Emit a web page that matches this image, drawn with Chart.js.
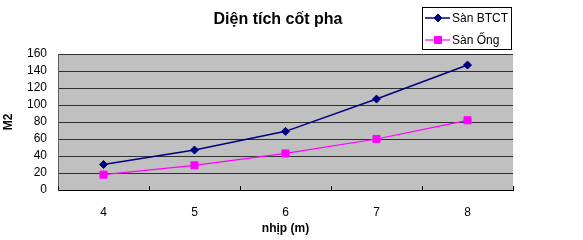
<!DOCTYPE html>
<html><head><meta charset="utf-8">
<script src="https://cdn.jsdelivr.net/npm/chart.js@4"></script>
<style>html,body{margin:0;padding:0;background:#fff}#w{width:583px;height:240px}</style>
</head><body><div id="w"><canvas id="c" width="583" height="240"></canvas></div>
<script>
const categories = ['4', '5', '6', '7', '8'];
const sanBTCT = [30, 47, 69, 107, 147];
const sanOng = [18, 29, 43, 60, 82];
const seriesNames = ['Sàn BTCT', 'Sàn Ống'];
const chartTitle = 'Diện tích cốt pha';
const xTitle = 'nhịp (m)';
const yTitle = 'M2';

const FONT = '"Liberation Sans", Arial, sans-serif';

const bgPlugin = {
  id: 'bg',
  beforeDraw(chart) {
    const {ctx, chartArea: a} = chart;
    ctx.save();
    ctx.fillStyle = '#C0C0C0';
    ctx.fillRect(a.left, a.top, a.right - a.left, a.bottom - a.top);
    ctx.restore();
  },
  afterDraw(chart) {
    const {ctx, chartArea: a} = chart;
    ctx.save();
    ctx.strokeStyle = '#000';
    ctx.lineWidth = 1;
    const n = categories.length;
    const step = (a.right - a.left) / n;
    for (let i = 0; i <= n; i++) {
      const x = Math.round(a.left + i * step) + 0.5;
      ctx.beginPath(); ctx.moveTo(x, a.bottom - 4); ctx.lineTo(x, a.bottom); ctx.stroke();
    }
    // title
    ctx.fillStyle = '#000';
    ctx.font = 'bold 16px ' + FONT;
    ctx.textAlign = 'center'; ctx.textBaseline = 'middle';
    ctx.fillText(chartTitle, 278, 20);
    // legend
    ctx.fillStyle = '#fff';
    ctx.fillRect(422.5, 7.5, 89, 42);
    ctx.strokeStyle = '#000';
    ctx.lineWidth = 1;
    ctx.strokeRect(422.5, 7.5, 89, 42);
    chart.data.datasets.forEach((ds, i) => {
      const y = 18 + i * 22;
      ctx.strokeStyle = ds.borderColor;
      ctx.lineWidth = ds.borderWidth;
      ctx.beginPath(); ctx.moveTo(425, y); ctx.lineTo(450, y); ctx.stroke();
      ctx.fillStyle = ds.backgroundColor;
      ctx.lineWidth = 1;
      Chart.helpers.drawPoint(ctx, {pointStyle: ds.pointStyle, radius: ds.pointRadius, borderWidth: 1}, 438, y);
      ctx.fillStyle = '#000';
      ctx.font = '12px ' + FONT;
      ctx.textAlign = 'left'; ctx.textBaseline = 'middle';
      ctx.fillText(ds.label, 452, y + 0.5);
    });
    ctx.restore();
  }
};

new Chart(document.getElementById('c'), {
  type: 'line',
  data: {
    labels: categories,
    datasets: [
      {label: seriesNames[0], data: sanBTCT, borderColor: '#000080', backgroundColor: '#000080',
       borderWidth: 1.5, pointStyle: 'rectRot', pointRadius: 4, pointBorderWidth: 1, pointHoverRadius: 4, tension: 0},
      {label: seriesNames[1], data: sanOng, borderColor: '#FF00FF', backgroundColor: '#FF00FF',
       borderWidth: 1.2, pointStyle: 'rect', pointRadius: 5, pointBorderWidth: 1, pointHoverRadius: 5, tension: 0}
    ]
  },
  options: {
    responsive: false, animation: false, devicePixelRatio: 1,
    layout: {padding: {left: 0, right: 70, top: 54, bottom: 0}},
    plugins: {legend: {display: false}, title: {display: false}, tooltip: {enabled: false}},
    scales: {
      x: {
        offset: true,
        grid: {display: false, drawTicks: false},
        border: {display: true, color: '#000', width: 1},
        ticks: {color: '#000', font: {family: FONT, size: 12}, padding: 15, maxRotation: 0, autoSkip: false},
        title: {display: true, text: xTitle, color: '#000', font: {family: FONT, size: 12, weight: 'bold'}, padding: {top: 0, bottom: 4}},
        afterFit(s) { s.height = 50; }
      },
      y: {
        min: 0, max: 160,
        grid: {color: '#303030', lineWidth: 1, drawTicks: false},
        border: {display: true, color: '#606060', width: 1},
        ticks: {stepSize: 20, color: '#000', font: {family: FONT, size: 12}, padding: 11, autoSkip: false},
        title: {display: true, text: yTitle, color: '#000', font: {family: FONT, size: 12, weight: 'bold'}, padding: {top: 1, bottom: 0}},
        afterFit(s) { s.width = 58; }
      }
    }
  },
  plugins: [bgPlugin]
});
</script>
</body></html>
